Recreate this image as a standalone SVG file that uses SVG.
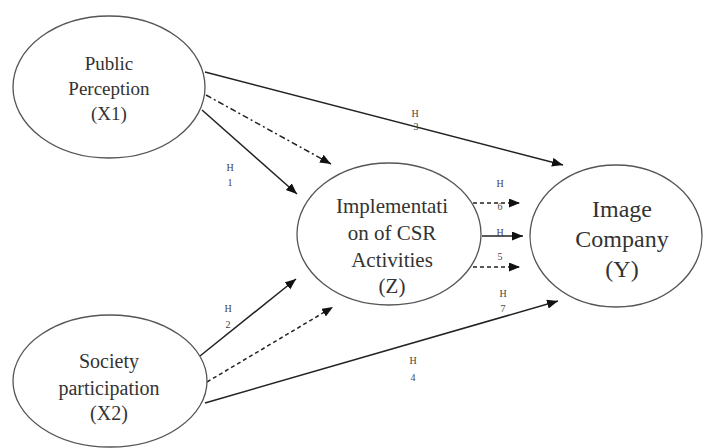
<svg xmlns="http://www.w3.org/2000/svg" width="708" height="448" viewBox="0 0 708 448">
<style>
.node ellipse{fill:#fff;stroke:#555;stroke-width:1.3}
.nt{font-family:"Liberation Serif","Times New Roman",serif;fill:#333;text-anchor:middle}
.lbl{font-family:"Liberation Serif","Times New Roman",serif;fill:#444;font-size:10px;text-anchor:middle}
.c{stroke:#222;stroke-width:1.5;fill:none}
.dash{stroke-dasharray:4,3}
.dashdot{stroke-dasharray:6,3,2,3}
</style>
<defs>
<marker id="ah" markerUnits="userSpaceOnUse" markerWidth="12" markerHeight="10" refX="11" refY="4.5" orient="auto">
<path d="M0,0 L11,4.5 L0,9 z" fill="#111"/>
</marker>
</defs>
<rect width="708" height="448" fill="#fff"/>
<g id="connectors">
<line class="c" x1="205" y1="72" x2="563" y2="165" marker-end="url(#ah)"/>
<line class="c dashdot" x1="206" y1="95" x2="331" y2="164" marker-end="url(#ah)"/>
<line class="c" x1="202" y1="110" x2="297" y2="194" marker-end="url(#ah)"/>
<line class="c" x1="200" y1="356" x2="296" y2="279" marker-end="url(#ah)"/>
<line class="c dash" x1="207" y1="382" x2="333" y2="307" marker-end="url(#ah)"/>
<line class="c" x1="205" y1="403" x2="558" y2="301" marker-end="url(#ah)"/>
<line class="c dash" x1="473" y1="203" x2="520" y2="203" marker-end="url(#ah)"/>
<line class="c" x1="482" y1="236" x2="523" y2="236" marker-end="url(#ah)"/>
<line class="c dash" x1="473" y1="267" x2="520" y2="267" marker-end="url(#ah)"/>
<text class="lbl" x="415" y="117">H</text>
<text class="lbl" x="416" y="130">3</text>
<text class="lbl" x="230" y="171">H</text>
<text class="lbl" x="230" y="186">1</text>
<text class="lbl" x="228" y="312">H</text>
<text class="lbl" x="228" y="328">2</text>
<text class="lbl" x="503" y="297">H</text>
<text class="lbl" x="503" y="312">7</text>
<text class="lbl" x="413" y="364">H</text>
<text class="lbl" x="413" y="381">4</text>
<text class="lbl" x="500" y="187">H</text>
<text class="lbl" x="500" y="210">6</text>
<text class="lbl" x="500" y="236">H</text>
<text class="lbl" x="500" y="260">5</text>
</g>
<g id="x1" class="node">
<ellipse cx="109" cy="87" rx="96" ry="71"/>
<text class="nt" font-size="19" x="109" y="70">Public</text>
<text class="nt" font-size="19" x="109" y="95">Perception</text>
<text class="nt" font-size="19" x="109" y="120">(X1)</text>
</g>
<g id="z" class="node">
<ellipse cx="389" cy="234" rx="92" ry="71"/>
<text class="nt" font-size="21" x="392" y="213">Implementati</text>
<text class="nt" font-size="21" x="392" y="240">on of CSR</text>
<text class="nt" font-size="21" x="392" y="267">Activities</text>
<text class="nt" font-size="21" x="392" y="293">(Z)</text>
</g>
<g id="y" class="node">
<ellipse cx="616" cy="236" rx="86" ry="71"/>
<text class="nt" font-size="24" x="622" y="217">Image</text>
<text class="nt" font-size="24" x="622" y="247">Company</text>
<text class="nt" font-size="24" x="622" y="277">(Y)</text>
</g>
<g id="x2" class="node">
<ellipse cx="110" cy="381" rx="97" ry="66"/>
<text class="nt" font-size="20" x="109" y="368">Society</text>
<text class="nt" font-size="20" x="109" y="395">participation</text>
<text class="nt" font-size="20" x="109" y="420">(X2)</text>
</g>
</svg>
